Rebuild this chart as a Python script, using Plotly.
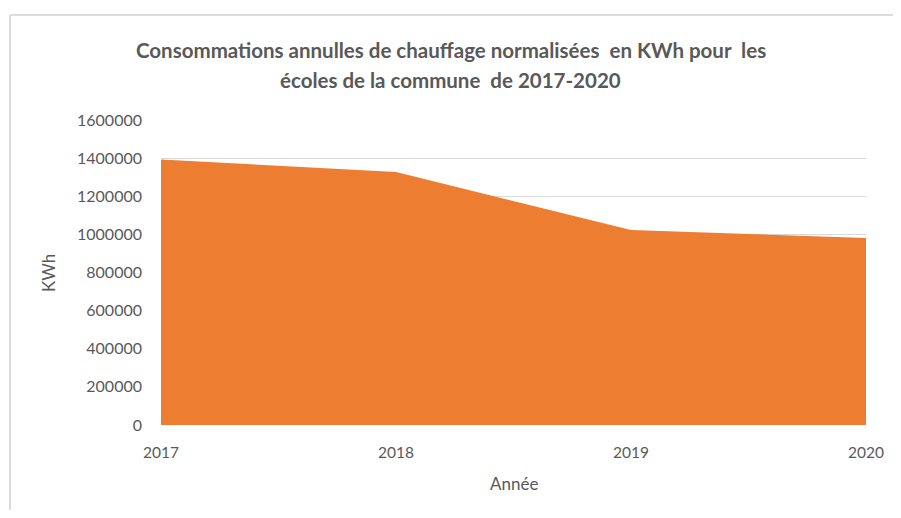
import plotly.graph_objects as go

years = [2017, 2018, 2019, 2020]
kwh = [1393000, 1327000, 1023000, 981000]
y_ticks = [0, 200000, 400000, 600000, 800000, 1000000, 1200000, 1400000, 1600000]

title_lines = [
    "Consommations annulles de chauffage normalisées  en KWh pour  les",
    "écoles de la commune  de 2017-2020",
]

# page body has an 8px margin, so the figure is sized to fit inside it
W, H = 885, 502
L, T = 153, 112
pw, ph = 705, 305
R = W - L - pw
B = H - T - ph

fig = go.Figure()
fig.add_trace(go.Scatter(
    x=years, y=kwh, mode="lines", fill="tozeroy",
    line=dict(color="#ED7D31", width=0), fillcolor="#ED7D31",
    hoverinfo="x+y", showlegend=False,
))

font_family = "Lato, 'Open Sans', sans-serif"
grey = "#595959"
fig.update_layout(
    width=W, height=H,
    margin=dict(l=L, r=R, t=T, b=B, autoexpand=False),
    paper_bgcolor="white", plot_bgcolor="white",
    font=dict(family=font_family, color=grey, size=15),
    xaxis=dict(
        range=[2017, 2020], tickvals=years, ticktext=[str(y) for y in years],
        showgrid=False, zeroline=False, showline=False, ticks="",
        ticklabelstandoff=16,
        tickfont=dict(size=15.5, color=grey),
    ),
    yaxis=dict(
        range=[0, 1600000], tickvals=y_ticks, ticktext=[str(v) for v in y_ticks],
        showgrid=True, gridcolor="#d9d9d9", gridwidth=1, zeroline=False,
        showline=False, ticks="", ticklabelstandoff=18,
        tickfont=dict(size=16, color=grey),
        layer="below traces",
    ),
)

cx = (442.5 - L) / pw
for line, ypx in zip(title_lines, [42, 72]):
    fig.add_annotation(
        text="<b>" + line + "</b>", xref="paper", yref="paper",
        x=cx, y=1 + (T - ypx) / ph, xanchor="center", yanchor="middle",
        showarrow=False, font=dict(family=font_family, size=20.5, color=grey),
    )

fig.add_annotation(
    text="Année", xref="paper", yref="paper",
    x=0.5, y=-(475 - (T + ph)) / ph, xanchor="center", yanchor="middle",
    showarrow=False, font=dict(family=font_family, size=17, color=grey),
)
fig.add_annotation(
    text="KWh", xref="paper", yref="paper", textangle=-90,
    x=(40 - L) / pw, y=(T + ph - 265) / ph, xanchor="center", yanchor="middle",
    showarrow=False, font=dict(family=font_family, size=17, color=grey),
)

# chart border: only the left and top edges are visible in the reference
border = dict(color="#dcdcdc", width=2)
fig.add_shape(
    type="line", xref="paper", yref="paper",
    x0=(2 - L) / pw, x1=(2 - L) / pw,
    y0=-(H - (T + ph)) / ph, y1=1 + (T - 7) / ph,
    line=border, layer="below",
)
fig.add_shape(
    type="line", xref="paper", yref="paper",
    x0=(2 - L) / pw, x1=(W - L) / pw,
    y0=1 + (T - 7) / ph, y1=1 + (T - 7) / ph,
    line=border, layer="below",
)

fig.write_html("out.html")
